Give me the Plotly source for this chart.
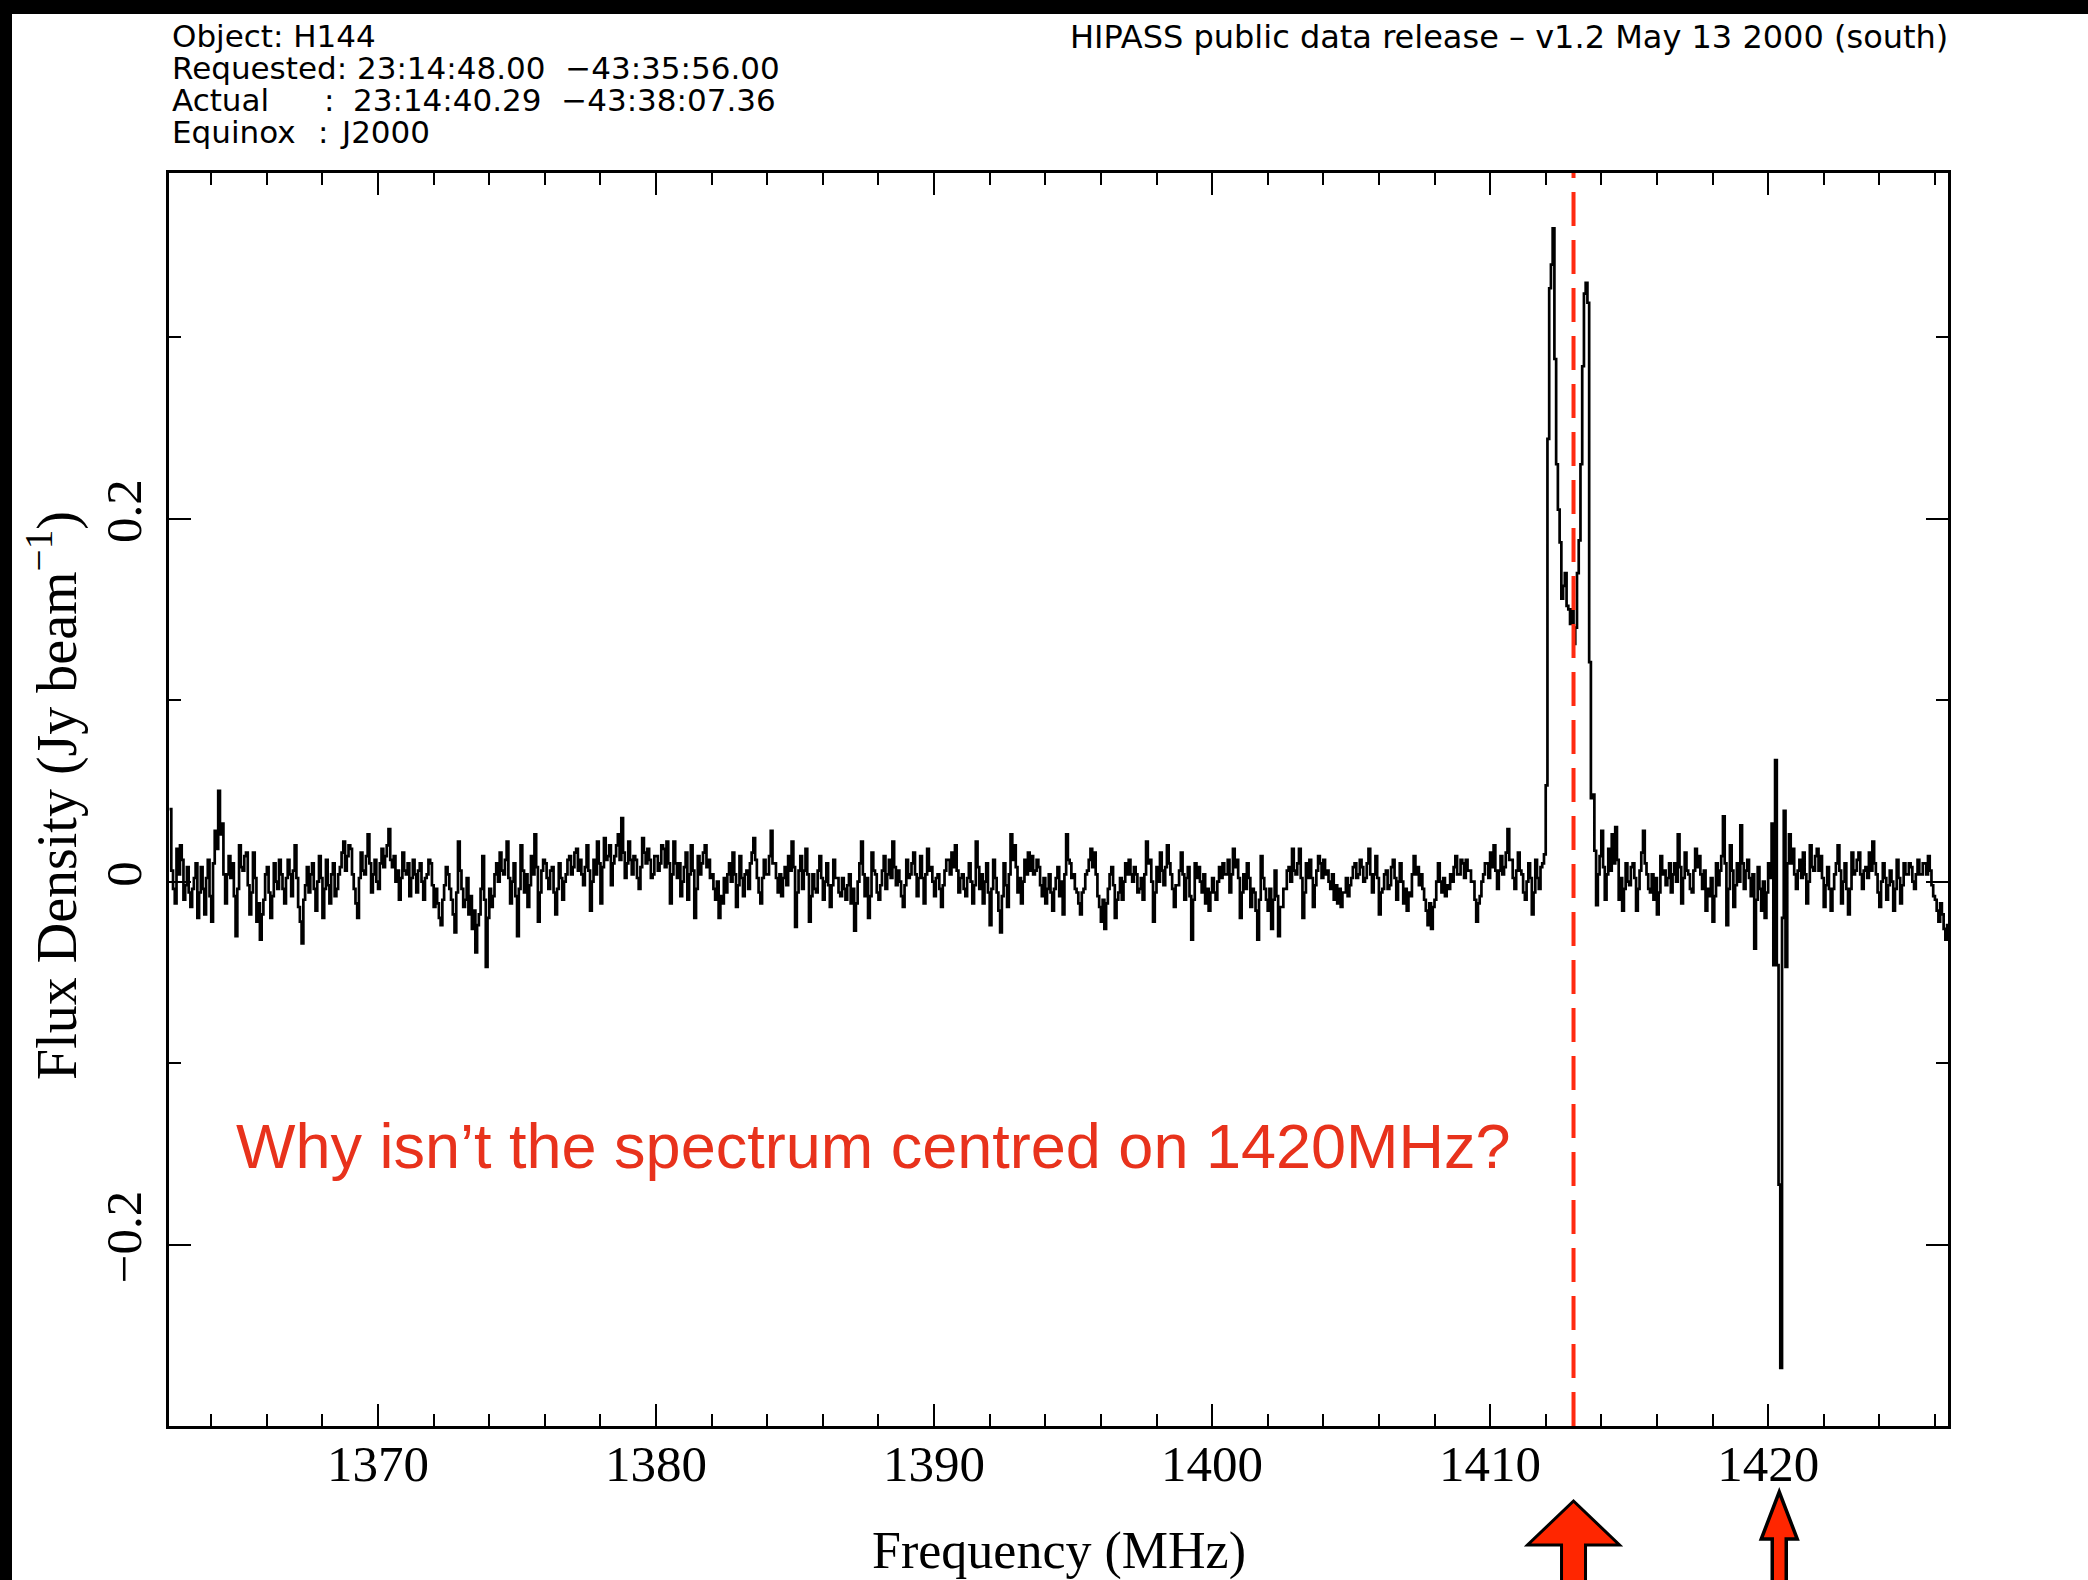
import plotly.graph_objects as go

# ---------------- data ----------------
# HIPASS spectrum of H144: flux density (Jy/beam) per 62.5 kHz channel,
# channel left edges start at 1362.5 MHz.
chan_start = 1362.5
chan_width = 0.0625

# 1362.5 - 1411.875 MHz : baseline (16 channels per MHz)
flux_baseline_low = [
    0.040, 0.006, -0.004, -0.012, 0.018, 0.004, 0.020, 0.012, -0.010, -0.002, 0.008, -0.006, -0.014, -0.004, 0.002, 0.010,
    -0.020, -0.006, 0.008, -0.004, -0.018, 0.002, 0.012, -0.008, -0.022, 0.010, 0.028, 0.018, 0.050, 0.026, 0.032, 0.004,
    -0.012, 0.004, 0.014, 0.002, 0.010, -0.008, -0.030, -0.004, 0.020, 0.008, 0.006, 0.014, 0.016, -0.002, -0.018, -0.006,
    0.016, 0.002, -0.022, -0.012, -0.032, -0.018, -0.010, 0.004, 0.008, -0.006, -0.020, -0.008, 0.010, 0.000, -0.004, 0.012,
    0.004, -0.004, -0.012, 0.002, 0.012, 0.004, -0.008, 0.006, 0.020, 0.002, -0.014, -0.022, -0.034, -0.010, -0.002, 0.008,
    -0.006, 0.004, 0.010, -0.004, -0.016, 0.000, 0.014, 0.002, -0.020, -0.004, 0.012, -0.002, -0.012, 0.004, 0.010, -0.008,
    -0.004, 0.004, 0.008, 0.016, 0.022, 0.006, 0.014, 0.020, 0.018, 0.004, -0.004, -0.012, -0.020, 0.002, 0.016, 0.006,
    0.004, 0.014, 0.026, 0.010, -0.006, 0.004, 0.012, 0.000, -0.004, 0.010, 0.018, 0.008, 0.014, 0.020, 0.029, 0.012,
    0.008, 0.014, 0.000, 0.006, -0.010, 0.002, 0.016, 0.006, 0.004, 0.010, -0.008, 0.002, 0.012, 0.004, -0.006, 0.006,
    0.010, 0.000, -0.010, 0.002, 0.004, 0.012, 0.010, -0.002, -0.014, -0.004, -0.012, -0.020, -0.024, -0.010, -0.002, 0.008,
    0.004, -0.004, -0.010, -0.018, -0.028, -0.006, 0.022, 0.006, -0.004, -0.014, -0.010, 0.002, -0.018, -0.008, -0.026, -0.016,
    -0.039, -0.024, -0.018, -0.004, 0.014, -0.010, -0.047, -0.020, -0.004, -0.014, -0.008, 0.004, 0.010, 0.000, 0.016, 0.006,
    0.004, 0.012, 0.022, 0.002, -0.012, 0.000, 0.010, -0.008, -0.030, -0.004, 0.020, 0.006, -0.006, 0.004, -0.014, -0.002,
    0.014, 0.004, 0.026, 0.008, -0.022, -0.006, 0.006, 0.012, 0.010, 0.002, -0.004, 0.006, 0.008, -0.006, -0.018, -0.004,
    0.010, 0.002, -0.010, 0.000, 0.004, 0.012, 0.014, 0.004, 0.008, 0.016, 0.018, 0.006, 0.012, 0.004, -0.002, 0.008,
    0.020, 0.006, -0.016, 0.000, 0.012, 0.004, 0.022, 0.010, -0.012, 0.008, 0.024, 0.012, 0.014, 0.020, -0.002, 0.010,
    0.014, 0.020, 0.026, 0.012, 0.035, 0.016, 0.002, 0.010, 0.022, 0.012, 0.004, 0.014, 0.012, 0.002, -0.004, 0.008,
    0.024, 0.016, 0.010, 0.018, 0.012, 0.002, 0.004, 0.014, 0.014, 0.006, 0.010, 0.020, 0.018, 0.008, 0.022, 0.010,
    -0.012, 0.004, 0.022, 0.010, 0.002, 0.010, -0.008, 0.000, 0.008, 0.016, -0.010, 0.004, 0.020, 0.006, -0.020, -0.004,
    0.014, 0.004, 0.010, 0.016, 0.020, 0.008, 0.012, 0.002, 0.004, -0.004, -0.010, 0.000, -0.020, -0.008, -0.012, 0.002,
    -0.006, 0.004, 0.010, 0.000, 0.016, 0.004, -0.014, -0.002, 0.014, 0.002, -0.008, 0.004, 0.006, -0.004, 0.010, 0.016,
    0.024, 0.012, 0.002, -0.006, -0.012, 0.002, 0.012, 0.004, 0.004, 0.014, 0.028, 0.010, 0.010, 0.002, -0.006, 0.004,
    -0.008, 0.002, 0.008, -0.002, 0.014, 0.006, 0.022, 0.008, -0.025, -0.006, 0.006, 0.014, -0.004, 0.006, 0.018, 0.004,
    -0.022, -0.008, 0.004, -0.004, -0.006, 0.006, 0.014, 0.002, -0.010, 0.000, 0.010, -0.002, -0.014, -0.002, 0.012, 0.002,
    0.002, -0.006, -0.008, 0.002, -0.004, -0.010, -0.002, 0.004, -0.012, -0.004, -0.027, -0.012, 0.000, 0.010, 0.022, 0.004,
    -0.008, 0.002, -0.020, -0.008, 0.016, 0.006, 0.004, -0.006, -0.010, -0.002, 0.006, 0.014, -0.004, 0.004, 0.012, 0.002,
    0.022, 0.008, -0.002, 0.006, 0.000, -0.008, -0.014, -0.002, 0.012, 0.002, 0.004, 0.010, 0.016, 0.004, -0.008, 0.002,
    0.014, 0.002, -0.012, 0.004, 0.018, 0.006, 0.008, 0.000, -0.008, 0.002, 0.004, -0.004, -0.014, -0.002, 0.006, 0.012,
    0.012, 0.004, 0.016, 0.008, 0.020, 0.006, -0.006, 0.002, 0.004, -0.004, -0.008, 0.002, 0.010, 0.000, -0.012, -0.002,
    0.022, 0.008, -0.004, 0.004, -0.012, 0.000, 0.010, -0.006, -0.024, -0.004, 0.012, 0.002, -0.006, -0.016, -0.028, -0.008,
    0.010, -0.002, -0.014, 0.004, 0.026, 0.012, 0.020, 0.008, -0.006, 0.002, -0.012, 0.000, 0.012, 0.004, 0.016, 0.006,
    0.014, 0.004, 0.006, 0.012, 0.008, -0.002, -0.008, 0.002, -0.012, -0.004, 0.004, -0.006, -0.016, -0.004, 0.002, 0.008,
    -0.008, 0.000, -0.018, 0.004, 0.026, 0.012, 0.010, 0.002, 0.004, -0.004, -0.006, -0.012, -0.018, -0.006, -0.004, 0.004,
    0.006, 0.012, 0.018, 0.008, 0.016, 0.004, -0.008, -0.014, -0.022, -0.010, -0.026, -0.012, -0.004, 0.004, 0.008, -0.002,
    -0.020, -0.010, -0.006, 0.002, -0.010, 0.000, 0.010, 0.004, 0.012, 0.004, 0.000, 0.008, 0.004, -0.006, -0.004, 0.002,
    -0.010, 0.004, 0.022, 0.010, 0.012, 0.000, -0.022, -0.006, 0.008, 0.000, 0.016, 0.006, -0.002, 0.008, 0.020, 0.010,
    0.004, -0.004, -0.014, -0.002, -0.002, 0.006, 0.016, 0.004, -0.010, 0.002, 0.008, -0.008, -0.032, -0.010, 0.010, 0.002,
    0.008, 0.000, -0.006, 0.004, -0.012, -0.004, -0.016, -0.006, 0.002, -0.006, -0.010, 0.000, 0.008, 0.002, 0.010, 0.004,
    0.004, 0.012, -0.006, 0.004, 0.018, 0.008, 0.012, 0.002, -0.020, -0.006, 0.004, -0.004, 0.010, 0.002, -0.014, -0.004,
    -0.006, -0.016, -0.032, -0.010, 0.014, 0.002, -0.004, -0.010, -0.016, -0.004, -0.026, -0.010, 0.006, -0.008, -0.030, -0.014,
    -0.014, -0.004, -0.004, 0.006, 0.008, 0.000, 0.018, 0.006, 0.004, 0.010, 0.018, 0.002, -0.020, -0.006, 0.010, 0.002,
    0.012, 0.002, -0.014, -0.002, 0.006, 0.014, 0.010, 0.002, 0.012, 0.004, 0.006, 0.000, -0.004, 0.004, -0.010, -0.002,
    -0.012, -0.004, -0.014, -0.006, -0.006, 0.002, -0.008, -0.002, 0.002, 0.008, 0.010, 0.002, 0.004, 0.012, 0.008, 0.000,
    0.002, 0.010, 0.018, 0.004, -0.006, 0.004, 0.014, 0.002, -0.018, -0.006, -0.004, 0.004, 0.006, -0.004, -0.002, 0.008,
    0.012, 0.002, -0.010, 0.000, 0.010, 0.000, -0.012, -0.004, -0.016, -0.006, -0.008, 0.004, 0.014, 0.004, 0.008, -0.002,
    0.004, -0.004, -0.010, -0.016, -0.024, -0.012, -0.026, -0.014, -0.010, 0.000, 0.010, 0.000, -0.006, 0.002, -0.008, -0.002,
    -0.004, 0.004, 0.000, 0.008, 0.014, 0.004, 0.004, 0.012, 0.010, 0.002, 0.012, 0.006, 0.006, 0.000, 0.000, -0.010,
    -0.022, -0.012, -0.008, 0.000, 0.004, 0.010, 0.010, 0.002, 0.016, 0.008, 0.020, 0.006, -0.004, 0.006, 0.014, 0.004,
    0.008, 0.016, 0.029, 0.012, 0.012, 0.002, -0.004, 0.006, 0.016, 0.006, 0.004, -0.006, -0.010, 0.000, 0.010, 0.002,
    -0.018, -0.006, 0.012, 0.002, -0.004, 0.008,
]

# 1411.875 - 1413.875 MHz : double-horned HI profile of the galaxy
flux_galaxy = [
    0.010, 0.015, 0.053, 0.244, 0.327, 0.340, 0.360, 0.288,
    0.230, 0.205, 0.187, 0.156, 0.163, 0.170, 0.152, 0.150,
    0.142, 0.150, 0.131, 0.140, 0.170, 0.188, 0.230, 0.284,
    0.324, 0.330, 0.319, 0.121, 0.046, 0.048, 0.017, -0.013,
]

# 1413.875 - 1420.125 MHz : baseline
flux_baseline_mid = [
    0.004, 0.014, 0.028, 0.008, -0.010, 0.004, 0.018, 0.006, 0.026, 0.010,
    0.030, 0.012, -0.010, 0.002, -0.016, -0.004, 0.010, 0.000, -0.002, 0.008, 0.010, 0.002, -0.016, -0.004, 0.006, 0.016,
    0.028, 0.010, 0.004, -0.004, -0.006, 0.004, -0.010, 0.002, -0.018, -0.006, 0.014, 0.004, 0.006, -0.002, 0.002, 0.010,
    -0.006, 0.004, 0.010, 0.000, 0.026, 0.008, -0.012, 0.002, 0.016, 0.006, 0.004, -0.004, -0.006, 0.006, 0.018, 0.008,
    0.014, 0.004, -0.004, 0.006, -0.016, -0.004, -0.008, 0.002, -0.022, -0.008, 0.010, -0.002, 0.006, 0.014, 0.036, 0.010,
    -0.024, -0.004, 0.020, 0.006, -0.014, -0.002, 0.010, 0.000, 0.031, 0.010, -0.004, 0.006, 0.012, 0.002, -0.008, 0.004,
    -0.037, -0.010, 0.008, -0.004, -0.016, 0.000, -0.020, -0.006, 0.010, 0.002,
]

# 1420.125 - 1420.75 MHz : Galactic HI (1420.4 MHz) residual
flux_milky_way = [0.032, -0.046, 0.067, -0.046, -0.167, -0.268, -0.020, 0.039, -0.047, 0.010]

# 1420.75 - 1426.5 MHz : baseline
flux_baseline_high = [
    0.026, 0.010, 0.018, 0.004, -0.004, 0.006, 0.012, 0.002, 0.016, 0.004, -0.012, 0.000,
    0.020, 0.008, 0.006, 0.014, 0.018, 0.006, 0.014, 0.002, -0.014, -0.002, 0.008, -0.004, -0.016, -0.004, 0.004, 0.010,
    0.020, 0.006, -0.012, 0.000, 0.010, -0.004, -0.018, -0.004, 0.016, 0.004, 0.006, 0.012, 0.016, 0.004, -0.004, 0.006,
    0.008, 0.002, 0.016, 0.006, 0.022, 0.010, 0.004, -0.006, -0.014, 0.000, 0.010, 0.002, -0.010, -0.002, 0.006, 0.000,
    -0.016, -0.004, 0.012, 0.002, -0.012, -0.002, 0.010, 0.004, 0.004, 0.010, 0.008, 0.000, -0.004, 0.004, 0.012, 0.004,
    0.004, 0.010, 0.010, 0.004, 0.014, 0.006, -0.002, -0.008, -0.010, -0.016, -0.022, -0.012, -0.018, -0.026, -0.032, -0.024,
]

galaxy_line_mhz = 1413.0      # red dashed marker
rest_line_mhz = 1420.4        # HI rest frequency arrow

x_range = [1362.48, 1426.47]
y_range = [-0.300, 0.3905]
x_tickvals = [1370, 1380, 1390, 1400, 1410, 1420]
y_tickvals = [-0.2, 0.0, 0.2]

header_right = "HIPASS public data release \u2013 v1.2 May 13 2000 (south)"
question = "Why isn\u2019t the spectrum centred on 1420MHz?"
x_title = "Frequency (MHz)"
y_title = "Flux Density (Jy beam<sup>\u22121</sup>)"

# ---------------- build step series ----------------
flux = (flux_baseline_low + flux_galaxy + flux_baseline_mid
        + flux_milky_way + flux_baseline_high)
freq = [chan_start + i * chan_width for i in range(len(flux))]
freq.append(chan_start + len(flux) * chan_width)
flux = flux + [flux[-1]]

# ---------------- layout geometry (pixels) ----------------
W, H = 2088, 1580
L, R, T, B = 169, 1948, 173, 1426
PW, PH = R - L, B - T


def px(xp):
    return (xp - L) / PW


def py(yp):
    return (B - yp) / PH


RED_TXT = "#e8321c"
RED = "#ff2a10"
SERIF = "Liberation Serif"
SANS = "DejaVu Sans"

fig = go.Figure()
fig.add_trace(go.Scatter(
    x=freq, y=flux, mode="lines",
    line=dict(color="black", width=2.7, shape="hv"),
    hoverinfo="skip", showlegend=False,
))

axis_common = dict(
    showgrid=False, zeroline=False, showline=True, linecolor="black",
    linewidth=2.7, mirror="allticks", ticks="inside", ticklen=22,
    tickwidth=2.2, tickcolor="black",
    tickfont=dict(family=SERIF, size=51, color="black"),
)
fig.update_xaxes(
    range=x_range, tickvals=x_tickvals, ticklabelstandoff=-9,
    minor=dict(dtick=2, tick0=1360, ticks="inside", ticklen=12,
               tickwidth=2.2, tickcolor="black", showgrid=False),
    **axis_common,
)
fig.update_yaxes(
    range=y_range, tickvals=y_tickvals, tickangle=-90, ticklabelstandoff=5,
    minor=dict(dtick=0.1, tick0=0, ticks="inside", ticklen=12,
               tickwidth=2.2, tickcolor="black", showgrid=False),
    **axis_common,
)


def label(text, x, y, xanchor="left", size=31, family=SANS, color="black", **kw):
    return dict(text=text, x=px(x), y=py(y), xref="paper", yref="paper",
                xanchor=xanchor, yanchor="middle", showarrow=False,
                font=dict(family=family, size=size, color=color), **kw)


annotations = [
    label("Object: H144", 170, 36),
    label("Requested: 23:14:48.00  \u221243:35:56.00", 170, 68),
    label("Actual", 170, 100),
    label(":", 322, 100),
    label("23:14:40.29  \u221243:38:07.36", 351, 100),
    label("Equinox", 170, 132),
    label(":", 316, 132),
    label("J2000", 338, 132),
    label(header_right, 1950, 37, xanchor="right", size=32),
    label(question, 873, 1146, xanchor="center", size=63,
          family="Liberation Sans", color=RED_TXT),
    label(x_title, 1059, 1551, xanchor="center", size=52, family=SERIF),
    label(y_title, 53, 796, xanchor="center", size=56, family=SERIF,
          textangle=-90),
]

shapes = [
    # black frame strips of the original slide
    dict(type="rect", xref="paper", yref="paper", x0=px(-5), x1=px(12),
         y0=py(H + 5), y1=py(-5), fillcolor="black", line=dict(width=0),
         layer="above"),
    dict(type="rect", xref="paper", yref="paper", x0=px(-5), x1=px(W + 5),
         y0=py(14), y1=py(-5), fillcolor="black", line=dict(width=0),
         layer="above"),
    # dashed marker at the observed galaxy frequency
    dict(type="line", xref="x", yref="paper", x0=galaxy_line_mhz,
         x1=galaxy_line_mhz, y0=0, y1=1,
         line=dict(color=RED, width=4, dash="34px,14px"), layer="above"),
    # big arrow under the galaxy line
    dict(type="path", xref="x", yref="paper", xsizemode="pixel",
         ysizemode="pixel", xanchor=galaxy_line_mhz, yanchor=0,
         path="M 0,-75 L 46,-119 L 12,-119 L 12,-200 L -12,-200 L -12,-119 L -46,-119 Z",
         fillcolor="#ff2600", line=dict(color="black", width=3)),
    # narrow arrow under 1420.4 MHz
    dict(type="path", xref="x", yref="paper", xsizemode="pixel",
         ysizemode="pixel", xanchor=rest_line_mhz, yanchor=0,
         path="M 0,-66 L 18,-113 L 7,-113 L 7,-200 L -7,-200 L -7,-113 L -18,-113 Z",
         fillcolor="#ff2600", line=dict(color="black", width=3.5)),
]

fig.update_layout(
    width=W, height=H,
    margin=dict(l=L, r=W - R, t=T, b=H - B, autoexpand=False),
    paper_bgcolor="white", plot_bgcolor="white",
    showlegend=False, hovermode=False,
    annotations=annotations, shapes=shapes,
)

fig.write_html("out.html", config={"displayModeBar": False})
